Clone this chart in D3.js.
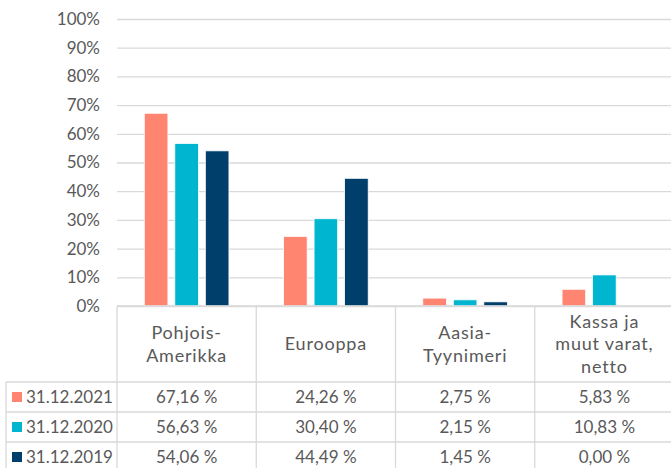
<html>
  <head>
    <meta charset="utf-8">
    <title>Alueellinen jakauma</title>
  </head>
<style>
  body { margin: 0; background: #fff; }
  text { font-family: "Century Gothic", Lato, sans-serif; fill: #595959; }
</style>
  <body>
    <script src="https://d3js.org/d3.v7.min.js" charset="utf-8"></script>
    <script>

    // data
    var categories = ["Pohjois-\nAmerikka", "Eurooppa", "Aasia-\nTyynimeri", "Kassa ja\nmuut varat,\nnetto"];
    var series = ["31.12.2021", "31.12.2020", "31.12.2019"];
    var values2021 = [67.16, 24.26, 2.75, 5.83];
    var values2020 = [56.63, 30.40, 2.15, 10.83];
    var values2019 = [54.06, 44.49, 1.45, 0.00];
    var yTicks = [0, 0.1, 0.2, 0.3, 0.4, 0.5, 0.6, 0.7, 0.8, 0.9, 1];
    var colors = ["#FF8570", "#00B5CF", "#003E6B"];

    var seriesValues = [values2021, values2020, values2019];

    var width = 671,
        height = 468;

    var plotLeft = 117, plotRight = 674, plotTop = 19, plotBottom = 306;
    var legendLeft = 6;
    var headerBottom = 382, rowHeight = 30;
    var gridColor = "#D9D9D9";

    var svg = d3.select("body").append("svg")
                .attr("width", width)
                .attr("height", height);

    var y = d3.scaleLinear().domain([0, 1]).range([plotBottom, plotTop]);

    var x0 = d3.scaleBand().domain(categories).range([plotLeft, plotRight]).padding(0);
    var x1 = d3.scaleBand().domain(series)
               .range([27.3, x0.bandwidth() - 27.3])
               .paddingInner(0.226).paddingOuter(0);

    var rowY = d3.scaleBand().domain(series)
                 .range([headerBottom, headerBottom + rowHeight * series.length]);

    // y axis + gridlines
    var yAxis = d3.axisLeft(y)
                  .tickValues(yTicks)
                  .tickFormat(d3.format(".0%"))
                  .tickSizeInner(-(plotRight - plotLeft))
                  .tickSizeOuter(0)
                  .tickPadding(17);

    var gAxis = svg.append("g")
                   .attr("transform", "translate(" + plotLeft + ",0)")
                   .call(yAxis);
    gAxis.select(".domain").remove();
    gAxis.selectAll(".tick line").attr("stroke", gridColor).attr("stroke-width", 1.3);
    gAxis.selectAll(".tick text")
         .attr("font-size", 17)
         .attr("fill", "#595959")
         .style("font-family", "'Century Gothic', Lato, sans-serif");

    // bars
    var groups = svg.selectAll("g.cat").data(categories)
                    .enter().append("g")
                    .attr("class", "cat")
                    .attr("transform", function(d){ return "translate(" + x0(d) + ",0)"; });

    groups.selectAll("rect")
          .data(function(d, i){
              return series.map(function(s, j){ return {s: s, v: seriesValues[j][i] / 100, c: colors[j]}; });
          })
          .enter().append("rect")
          .attr("x", function(d){ return x1(d.s); })
          .attr("width", x1.bandwidth())
          .attr("y", function(d){ return y(d.v); })
          .attr("height", function(d){ return y(0) - y(d.v); })
          .attr("fill", function(d){ return d.c; })
          .attr("stroke", "#fff")
          .attr("stroke-width", 0.8);

    // data table grid
    var table = svg.append("g").attr("stroke", gridColor).attr("stroke-width", 1.3);

    table.append("line")
         .attr("x1", plotLeft).attr("x2", width)
         .attr("y1", plotBottom).attr("y2", plotBottom);

    series.forEach(function(s){
        table.append("line")
             .attr("x1", legendLeft).attr("x2", width)
             .attr("y1", rowY(s)).attr("y2", rowY(s));
    });

    table.append("line")
         .attr("x1", legendLeft).attr("x2", legendLeft)
         .attr("y1", headerBottom).attr("y2", height + 10);

    categories.forEach(function(c){
        table.append("line")
             .attr("x1", x0(c)).attr("x2", x0(c))
             .attr("y1", plotBottom).attr("y2", height + 10);
    });

    // header labels
    var headerMid = (plotBottom + headerBottom) / 2;
    var lineH = 22.3;
    categories.forEach(function(c){
        var lines = c.split("\n");
        var t = svg.append("text")
                   .attr("text-anchor", "middle")
                   .attr("font-size", 18)
                   .attr("letter-spacing", 0.8);
        lines.forEach(function(l, k){
            t.append("tspan")
             .attr("x", x0(c) + x0.bandwidth() / 2)
             .attr("y", headerMid + (k - (lines.length - 1) / 2) * lineH)
             .attr("dy", "0.36em")
             .text(l);
        });
    });

    // legend column
    series.forEach(function(s, j){
        var cy = rowY(s) + rowY.bandwidth() / 2;
        svg.append("rect")
           .attr("x", 12).attr("y", cy - 5)
           .attr("width", 10).attr("height", 10)
           .attr("fill", colors[j]);
        svg.append("text")
           .attr("x", 26).attr("y", cy)
           .attr("dy", "0.36em")
           .attr("font-size", 17)
           .text(s);
    });

    // values
    var fmt = function(v){ return d3.format(".2f")(v).replace(".", ",") + " %"; };
    series.forEach(function(s, j){
        categories.forEach(function(c, i){
            svg.append("text")
               .attr("x", x0(c) + x0.bandwidth() / 2)
               .attr("y", rowY(s) + rowY.bandwidth() / 2)
               .attr("dy", "0.36em")
               .attr("text-anchor", "middle")
               .attr("font-size", 17)
               .text(fmt(seriesValues[j][i]));
        });
    });

    </script>
  </body>
</html>
